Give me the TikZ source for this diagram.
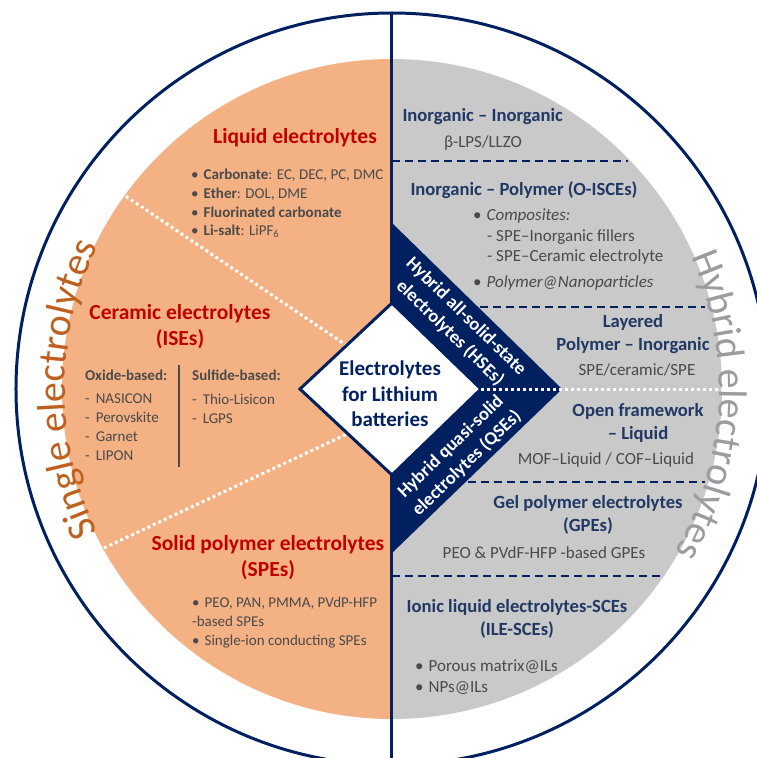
\documentclass[tikz,border=0pt]{standalone}
\usepackage{fontspec}
\setmainfont{Carlito}
\usetikzlibrary{decorations.text}

\definecolor{navy}{HTML}{002060}
\definecolor{hdnavy}{HTML}{1F3864}
\definecolor{peach}{HTML}{F4B183}
\definecolor{sidegray}{HTML}{C9C9C9}
\definecolor{redhd}{HTML}{C00000}
\definecolor{bodytext}{HTML}{4A4A4A}
\definecolor{singlecol}{HTML}{C0601E}
\definecolor{hybridcol}{HTML}{9C9C9C}

\newcommand{\fntSide}{\fontsize{40}{40}\selectfont}
\newcommand{\fntRed}{\fontsize{21.5}{26}\selectfont\bfseries}
\newcommand{\fntNavy}{\fontsize{18.6}{23}\selectfont\bfseries}
\newcommand{\fntCore}{\fontsize{21}{25.5}\selectfont\bfseries}
\newcommand{\fntBand}{\fontsize{18.5}{23}\selectfont\bfseries}
\newcommand{\fntList}{\fontsize{15}{18.7}\selectfont}
\newcommand{\fntBody}{\fontsize{17}{20.5}\selectfont}

\tikzset{
	redhead/.style={font=\fntRed, text=redhd, align=center},
	navyhead/.style={font=\fntNavy, text=hdnavy, align=center},
	leftlist/.style={font=\fntList, text=bodytext, align=left, anchor=north west, inner sep=0pt},
	rightbody/.style={font=\fntBody, text=bodytext, align=left, inner sep=0pt},
	bandtext/.style={font=\fntBand, text=white, align=center},
	dashsep/.style={draw=navy, line width=1.5pt, dash pattern=on 8pt off 5pt},
	dotsep/.style={draw=white, line width=3pt, dash pattern=on 3pt off 3pt}
}

\begin{document}
\begin{tikzpicture}[x=1pt, y=1pt]
	% page
	\clip (-392,-369) rectangle (365,389);
	\fill[white] (-392,-369) rectangle (365,389);

	% two halves
	\fill[peach] (0,330) arc[start angle=90, end angle=270, radius=330] -- cycle;
	\fill[sidegray] (0,-330) arc[start angle=-90, end angle=90, radius=330] -- cycle;

	% ring and middle line
	\draw[navy, line width=3pt] (0,0) circle[radius=376];
	\draw[navy, line width=3pt] (0,376) -- (0,-376);

	% curved side titles
	\path[decorate, decoration={text along path, text align=center, text color=singlecol, text={|\fntSide|Single electrolytes}}] (215:327) arc[start angle=215, end angle=145, radius=327];
	\path[decorate, decoration={text along path, text align=center, text color=hybridcol, text={|\fntSide|Hybrid electrolytes}}] (32:327) arc[start angle=32, end angle=-38, radius=327];

	% single side
	\draw[dotsep] (-271,196) -- (-46,44);
	\draw[dotsep] (-288,-159) -- (-45,-45);
	\node[redhead] (liquid) at (-97,251) {Liquid electrolytes};
	\node[leftlist] (liqlist) at (-201,220) {•\hspace{5pt}\textbf{Carbonate}: EC, DEC, PC, DMC\\ •\hspace{5pt}\textbf{Ether}: DOL, DME\\ •\hspace{5pt}\textbf{Fluorinated carbonate}\\ •\hspace{5pt}\textbf{Li-salt}: LiPF\textsubscript{6}};
	\node[redhead] (ceramic) at (-212,62) {Ceramic electrolytes\\(ISEs)};
	\node[leftlist, font=\fntList\bfseries] (oxhead) at (-307,19) {Oxide-based:};
	\node[leftlist] (oxlist) at (-307,-5) {-\hspace{6pt}NASICON\\ -\hspace{6pt}Perovskite\\ -\hspace{6pt}Garnet\\ -\hspace{6pt}LIPON};
	\draw[bodytext, line width=1.2pt] (-213,24) -- (-213,-78);
	\node[leftlist, font=\fntList\bfseries] (sulhead) at (-200,19) {Sulfide-based:};
	\node[leftlist] (sullist) at (-200,-5) {-\hspace{6pt}Thio-Lisicon\\ -\hspace{6pt}LGPS};
	\node[redhead] (spe) at (-124,-168.5) {Solid polymer electrolytes\\(SPEs)};
	\node[leftlist] (spelist) at (-200,-208) {•\hspace{5pt}PEO, PAN, PMMA, PVdP-HFP\\-based SPEs\\ •\hspace{5pt}Single-ion conducting SPEs};

	% hybrid side
	\node[navyhead, anchor=west] (inin) at (7,272) {Inorganic – Inorganic};
	\node[rightbody] (lpsllzo) at (91,246) {β-LPS/LLZO};
	\draw[dashsep] (0,228) -- (236,228);
	\node[navyhead] (inpoly) at (132,199) {Inorganic – Polymer (O-ISCEs)};
	\node[rightbody, anchor=north west] (complist) at (81,180) {•\hspace{5pt}\textit{Composites:}\\ \hspace*{14pt}- SPE–Inorganic fillers\\ \hspace*{14pt}- SPE–Ceramic electrolyte};
	\node[rightbody, anchor=west] (polynano) at (81,106) {•\hspace{5pt}\textit{Polymer@Nanoparticles}};
	\draw[dashsep] (88,82) -- (313,82);
	\node[navyhead] (layered) at (241,55) {Layered\\Polymer – Inorganic};
	\node[rightbody] (sandwich) at (245,19) {SPE/ceramic/SPE};
	\node[navyhead] (openfw) at (246,-34) {Open framework\\– Liquid};
	\node[rightbody] (mofcof) at (214,-71) {MOF–Liquid / COF–Liquid};
	\draw[dashsep] (76,-93) -- (313,-93);
	\node[navyhead] (gpe) at (196,-125.5) {Gel polymer electrolytes\\(GPEs)};
	\node[rightbody] (gpebody) at (152,-164) {PEO \& PVdF-HFP -based GPEs};
	\draw[dashsep] (0,-187) -- (270,-187);
	\node[navyhead] (ile) at (125,-229.5) {Ionic liquid electrolytes-SCEs\\(ILE-SCEs)};
	\node[rightbody, anchor=north west] (ilelist) at (23,-271) {•\hspace{5pt}Porous matrix@ILs\\ •\hspace{5pt}NPs@ILs};

	% centre diamond
	\fill[navy] (0,166) -- (170,0) -- (0,-164) -- cycle;
	\coordinate (dl) at (-92,0);
	\coordinate (dt) at (0,86);
	\coordinate (dr) at (89,0);
	\coordinate (db) at (0,-86);
	\filldraw[fill=white, draw=navy, line width=3pt] (dl) -- (dt) -- (dr) -- (db) -- cycle;
	\draw[dotsep] (dr) -- (333,0);
	\node[font=\fntCore, text=navy, align=center] (core) at (-2,-5) {Electrolytes\\for Lithium\\batteries};
	\node[bandtext, rotate=-44.3] (hse) at (66,64) {Hybrid all-solid-state\\electrolytes (HSEs)};
	\node[bandtext, rotate=44] (qse) at (67,-66) {Hybrid quasi-solid\\electrolytes (QSEs)};
\end{tikzpicture}
\end{document}
